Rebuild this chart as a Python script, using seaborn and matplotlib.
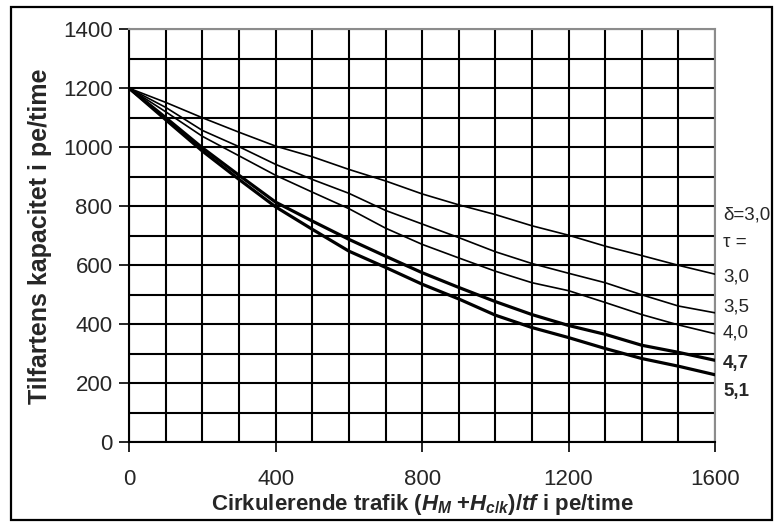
import matplotlib
matplotlib.use("Agg")
import matplotlib.pyplot as plt
from matplotlib.patches import Rectangle
from matplotlib.ticker import MultipleLocator
import numpy as np
import pandas as pd
import seaborn as sns

# Circulating traffic (pe/time)
circ = [0, 100, 200, 300, 400, 500, 600, 700, 800, 900, 1000,
        1100, 1200, 1300, 1400, 1500, 1600]

# Entry capacity for each critical gap tau (delta = 3,0)
cap_30 = [1200, 1152, 1100, 1051, 1004, 968, 925, 886, 842, 805, 772,
          734, 702, 665, 633, 600, 570]
cap_35 = [1200, 1135, 1057, 1002, 942, 891, 844, 786, 740, 694, 646,
          606, 573, 541, 500, 462, 439]
cap_40 = [1200, 1120, 1037, 971, 905, 848, 792, 726, 671, 625, 580,
          541, 514, 474, 433, 398, 368]
cap_47 = [1200, 1100, 998, 905, 814, 750, 688, 631, 575, 525, 477,
          433, 396, 366, 329, 305, 278]
cap_51 = [1200, 1093, 987, 891, 798, 722, 648, 593, 536, 486, 431,
          389, 355, 318, 284, 258, 229]

tau_labels = ["3,0", "3,5", "4,0", "4,7", "5,1"]
tau_label_y = [559, 460, 370, 268, 172]
header_labels = ["\u03b4=3,0", "\u03c4 ="]
header_label_y = [770, 678]

series = [cap_30, cap_35, cap_40, cap_47, cap_51]
widths = [1.2, 1.2, 1.2, 2.3, 2.3]

df = pd.concat(
    [pd.DataFrame({"circ": circ, "cap": s, "tau": t})
     for s, t in zip(series, tau_labels)],
    ignore_index=True,
)

sns.set_theme(style="white")
plt.rcParams["font.family"] = ["Liberation Sans", "DejaVu Sans"]
plt.rcParams["mathtext.fontset"] = "custom"
plt.rcParams["mathtext.rm"] = "Liberation Sans:bold"
plt.rcParams["mathtext.it"] = "Liberation Sans:italic:bold"
plt.rcParams["mathtext.bf"] = "Liberation Sans:bold"

fig = plt.figure(figsize=(7.82, 5.27), dpi=100)
ax = fig.add_axes([0.1653, 0.1607, 0.7490, 0.7837])

for t, lw in zip(tau_labels, widths):
    sns.lineplot(data=df[df["tau"] == t], x="circ", y="cap", ax=ax,
                 color="black", linewidth=lw, legend=False, zorder=3)

ax.set_xlim(0, 1600)
ax.set_ylim(0, 1400)
ax.xaxis.set_major_locator(MultipleLocator(400))
ax.xaxis.set_minor_locator(MultipleLocator(100))
ax.yaxis.set_major_locator(MultipleLocator(200))
ax.yaxis.set_minor_locator(MultipleLocator(100))
ax.grid(True, which="both", color="black", linewidth=1.5, zorder=1)
ax.set_axisbelow(True)

ax.tick_params(axis="both", which="major", direction="out", length=7,
               width=1.2, color="black", labelsize=16, pad=5,
               bottom=True, left=True)
ax.tick_params(axis="both", which="minor", length=0)
ax.tick_params(axis="x", pad=12)

for side in ["left", "bottom"]:
    ax.spines[side].set_color("black")
    ax.spines[side].set_linewidth(1.5)
for side in ["top", "right"]:
    ax.spines[side].set_color("#8c8c8c")
    ax.spines[side].set_linewidth(1.5)

ax.set_ylabel("Tilfartens kapacitet i pe/time", fontsize=18,
              fontweight="bold", labelpad=8)
ax.set_xlabel(r"Cirkulerende trafik $\mathit{(H_M\;{+}H_{c/k})/tf}$ i pe/time",
              fontsize=16, fontweight="bold", labelpad=2)

for txt, y in zip(header_labels, header_label_y):
    ax.text(1622, y, txt, fontsize=13.5, va="center", ha="left", clip_on=False)
for txt, y, lw in zip(tau_labels, tau_label_y, widths):
    ax.text(1622, y, txt, fontsize=13.5, va="center", ha="left", clip_on=False,
            fontweight="bold" if lw > 2 else "normal")

fig.patches.append(Rectangle((11 / 782, 7 / 527), 761 / 782, 513 / 527,
                             transform=fig.transFigure, fill=False,
                             edgecolor="black", linewidth=1.6))

fig.savefig("out.png", dpi=100)
